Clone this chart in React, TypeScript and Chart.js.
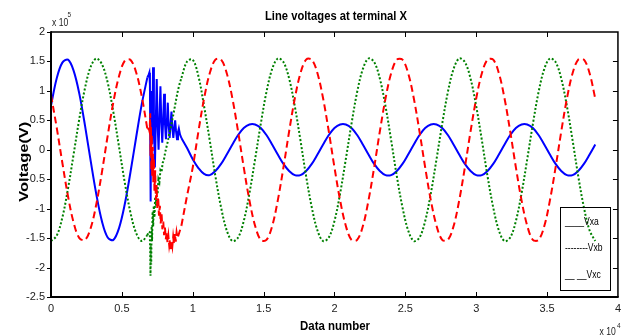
import React, { useEffect, useRef } from "react";
import { Chart, registerables } from "chart.js";

Chart.register(...registerables);

// ---- axis ticks (x in units of 1e4, y in units of 1e5)
const xTickValues = [0, 0.5, 1, 1.5, 2, 2.5, 3, 3.5, 4];
const yTickValues = [-2.5, -2, -1.5, -1, -0.5, 0, 0.5, 1, 1.5, 2];

// ---- pre-fault samples
const preX = [0, 0.04, 0.08, 0.12, 0.16, 0.2, 0.24, 0.28, 0.32, 0.36, 0.4, 0.44, 0.48, 0.52, 0.56, 0.6, 0.64, 0.68];
const vxaPre = [0.75, 1.21, 1.48, 1.53, 1.34, 0.95, 0.41, -0.19, -0.76, -1.22, -1.49, -1.53, -1.33, -0.93, -0.39, 0.2, 0.77, 1.23];
const vxbPre = [-1.55, -1.46, -1.15, -0.66, -0.07, 0.53, 1.05, 1.41, 1.55, 1.45, 1.14, 0.64, 0.05, -0.55, -1.06, -1.41, -1.55, -1.45];
const vxcPre = [0.93, 0.38, -0.22, -0.79, -1.24, -1.5, -1.53, -1.33, -0.92, -0.37, 0.24, 0.81, 1.25, 1.51, 1.53, 1.32, 0.91, 0.35];

// ---- fault transient samples
const vxaFaultX = [0.690, 0.694, 0.698, 0.703, 0.708, 0.714, 0.720, 0.726, 0.733, 0.740, 0.746, 0.752, 0.759, 0.766, 0.772, 0.778, 0.785, 0.792, 0.798, 0.804, 0.811, 0.818, 0.824, 0.830, 0.837, 0.844, 0.850, 0.856, 0.863, 0.870, 0.876, 0.882, 0.889, 0.896, 0.902, 0.910];
const vxaFaultY = [1.28, 1.31, 1.1, -0.88, 1.0, 0.1, 1.4, 0.5, -0.3, 0.55, 1.2, 0.45, 0.0, 0.6, 1.08, 0.5, 0.12, 0.55, 0.95, 0.45, 0.18, 0.5, 0.8, 0.42, 0.2, 0.45, 0.65, 0.38, 0.2, 0.38, 0.5, 0.32, 0.18, 0.3, 0.36, 0.26];

const vxbFaultX = [0.690, 0.697, 0.700, 0.702, 0.704, 0.707, 0.710, 0.713, 0.717, 0.721, 0.725, 0.730, 0.735, 0.740, 0.746, 0.752, 0.758, 0.765, 0.772, 0.780, 0.788, 0.796, 0.805, 0.815, 0.825, 0.835, 0.845, 0.855, 0.865, 0.875, 0.885, 0.895, 0.905];
const vxbFaultY = [-1.39, -1.4, -1.75, -2.14, -1.6, -1.95, -1.3, -1.55, -1.05, -1.3, -0.95, -1.15, -0.8, -0.95, -0.62, -0.75, -0.5, -0.55, -0.35, -0.38, -0.22, -0.18, -0.05, 0.05, 0.15, 0.28, 0.38, 0.5, 0.62, 0.75, 0.88, 1.0, 1.1];

const vxcFaultX = [0.690, 0.696, 0.700, 0.702, 0.705, 0.708, 0.711, 0.714, 0.718, 0.722, 0.726, 0.730, 0.735, 0.740, 0.745, 0.750, 0.756, 0.762, 0.768, 0.774, 0.780, 0.786, 0.792, 0.798, 0.804, 0.810, 0.816, 0.822, 0.828, 0.834, 0.840, 0.845, 0.850, 0.856, 0.862, 0.868, 0.874, 0.880, 0.886, 0.893];
const vxcFaultY = [0.36, 0.3, 0.62, -0.1, 0.4, -0.35, 0.25, -0.45, 0.05, -0.55, -0.15, -0.7, -0.35, -0.85, -0.6, -1.0, -0.8, -1.12, -0.95, -1.25, -1.08, -1.35, -1.22, -1.45, -1.32, -1.52, -1.4, -1.58, -1.46, -1.62, -1.52, -1.72, -1.55, -1.64, -1.48, -1.6, -1.42, -1.56, -1.4, -1.5];

// ---- post-fault samples
const postX = [0.92, 0.96, 1.0, 1.04, 1.08, 1.12, 1.16, 1.2, 1.24, 1.28, 1.32, 1.36, 1.4, 1.44, 1.48, 1.52, 1.56, 1.6, 1.64, 1.68, 1.72, 1.76, 1.8, 1.84, 1.88, 1.92, 1.96, 2.0, 2.04, 2.08, 2.12, 2.16, 2.2, 2.24, 2.28, 2.32, 2.36, 2.4, 2.44, 2.48, 2.52, 2.56, 2.6, 2.64, 2.68, 2.72, 2.76, 2.8, 2.84, 2.88, 2.92, 2.96, 3.0, 3.04, 3.08, 3.12, 3.16, 3.2, 3.24, 3.28, 3.32, 3.36, 3.4, 3.44, 3.48, 3.52, 3.56, 3.6, 3.64, 3.68, 3.72, 3.76, 3.8, 3.84];
const vxaPost = [
  0.2, 0.03, -0.16, -0.31,
  -0.41, -0.43, -0.36, -0.24, -0.08, 0.09, 0.25, 0.37, 0.43, 0.43, 0.37, 0.25, 0.09, -0.08, -0.24, -0.36,
  -0.43, -0.43, -0.36, -0.24, -0.08, 0.09, 0.25, 0.37, 0.43, 0.43, 0.37, 0.25, 0.09, -0.08, -0.24, -0.36,
  -0.43, -0.43, -0.36, -0.24, -0.08, 0.09, 0.25, 0.37, 0.43, 0.43, 0.37, 0.25, 0.09, -0.08, -0.24, -0.36,
  -0.43, -0.43, -0.36, -0.24, -0.08, 0.09, 0.25, 0.37, 0.43, 0.43, 0.37, 0.25, 0.09, -0.08, -0.24, -0.36,
  -0.43, -0.43, -0.36, -0.24, -0.08, 0.09,
];
const vxbPost = [
  1.22, 1.5, 1.53, 1.25,
  0.74, 0.16, -0.45, -0.98, -1.37, -1.55, -1.49, -1.21, -0.74, -0.16, 0.44, 0.98,
  1.37, 1.55, 1.49, 1.21, 0.74, 0.16, -0.45, -0.98, -1.37, -1.55, -1.49, -1.21, -0.74, -0.16, 0.44, 0.98,
  1.37, 1.55, 1.49, 1.21, 0.74, 0.16, -0.45, -0.98, -1.37, -1.55, -1.49, -1.21, -0.74, -0.16, 0.44, 0.98,
  1.37, 1.55, 1.49, 1.21, 0.74, 0.16, -0.45, -0.98, -1.37, -1.55, -1.49, -1.21, -0.74, -0.16, 0.44, 0.98,
  1.37, 1.55, 1.49, 1.21, 0.74, 0.16, -0.45, -0.98, -1.37, -1.55,
];
const vxcPost = [
  -1.29, -0.78, -0.3, 0.31, 0.87, 1.3, 1.53, 1.53, 1.3, 0.87, 0.31, -0.3, -0.86, -1.29, -1.53, -1.53,
  -1.3, -0.86, -0.3, 0.31, 0.87, 1.3, 1.53, 1.53, 1.3, 0.87, 0.31, -0.3, -0.86, -1.29, -1.53, -1.53,
  -1.3, -0.86, -0.3, 0.31, 0.87, 1.3, 1.53, 1.53, 1.3, 0.87, 0.31, -0.3, -0.86, -1.29, -1.53, -1.53,
  -1.3, -0.86, -0.3, 0.31, 0.87, 1.3, 1.53, 1.53, 1.3, 0.87, 0.31, -0.3, -0.86, -1.29, -1.53, -1.53,
  -1.3, -0.86, -0.3, 0.31, 0.87, 1.3, 1.53, 1.53, 1.3, 0.87,
];

const legendLabels = ["____Vxa", "--------Vxb", "__ __Vxc"];

const FONT_FAMILY = '"Liberation Sans", Arial, sans-serif';

function pts(xs: number[], ys: number[]) {
  return xs.map((x, i) => ({ x, y: ys[i] }));
}

function seriesDatasets(pre: number[], fx: number[], fy: number[], post: number[], color: string, dash: number[]) {
  const prePts = pts(preX, pre);
  const postPts = pts(postX, post);
  const faultPts = [prePts[prePts.length - 1], ...pts(fx, fy), postPts[0]];
  const base = {
    borderColor: color,
    backgroundColor: color,
    borderWidth: 2,
    borderDash: dash,
    borderCapStyle: "butt" as const,
    pointRadius: 0,
    fill: false,
  };
  return [
    { ...base, data: prePts, tension: 0.35 },
    { ...base, data: faultPts, tension: 0 },
    { ...base, data: postPts, tension: 0.35 },
  ];
}

function fitText(ctx: CanvasRenderingContext2D, text: string, x: number, y: number, w: number, font: string, align: CanvasTextAlign) {
  ctx.save();
  ctx.font = font;
  const m = ctx.measureText(text).width;
  const s = w / m;
  ctx.translate(x, y);
  ctx.scale(s, 1);
  ctx.textAlign = align;
  ctx.textBaseline = "alphabetic";
  ctx.fillText(text, 0, 0);
  ctx.restore();
}

const framePlugin = {
  id: "matlabFrame",
  afterDraw(chart: any) {
    const ctx: CanvasRenderingContext2D = chart.ctx;
    const { left, right, top, bottom } = chart.chartArea;
    const xs = chart.scales.x;
    const ys = chart.scales.y;
    ctx.save();
    ctx.strokeStyle = "#000";
    ctx.fillStyle = "#000";
    // box
    ctx.lineWidth = 1.5;
    ctx.beginPath();
    ctx.moveTo(left, top);
    ctx.lineTo(right, top);
    ctx.lineTo(right, bottom);
    ctx.stroke();
    ctx.lineWidth = 2;
    ctx.beginPath();
    ctx.moveTo(left, top - 0.75);
    ctx.lineTo(left, bottom);
    ctx.lineTo(right + 0.75, bottom);
    ctx.stroke();
    // ticks
    ctx.lineWidth = 1;
    ctx.beginPath();
    xTickValues.forEach((v) => {
      if (v <= 0 || v >= 4) return;
      const px = Math.round(xs.getPixelForValue(v)) + 0.5;
      ctx.moveTo(px, bottom);
      ctx.lineTo(px, bottom - 5);
      ctx.moveTo(px, top);
      ctx.lineTo(px, top + 5);
    });
    yTickValues.forEach((v) => {
      const py = Math.round(ys.getPixelForValue(v)) + 0.5;
      ctx.moveTo(left - 4, py);
      ctx.lineTo(left, py);
      if (v > -2.5 && v < 2) {
        ctx.moveTo(right, py);
        ctx.lineTo(right - 5, py);
      }
    });
    ctx.stroke();

    // legend
    ctx.lineWidth = 1;
    ctx.strokeRect(560.5, 207.5, 50, 83);
    const legY = [224.5, 250.5, 278];
    legendLabels.forEach((t, i) => {
      ctx.save();
      ctx.font = `11px ${FONT_FAMILY}`;
      ctx.translate(565, legY[i]);
      ctx.scale(0.78, 1);
      ctx.textAlign = "left";
      ctx.fillText(t, 0, 0);
      ctx.restore();
    });

    // title & axis labels
    fitText(ctx, "Line voltages at terminal X", 336, 20, 142, `bold 13px ${FONT_FAMILY}`, "center");
    fitText(ctx, "Data number", 335, 329.5, 70, `bold 13px ${FONT_FAMILY}`, "center");
    ctx.save();
    ctx.translate(28.3, 161.7);
    ctx.rotate(-Math.PI / 2);
    fitText(ctx, "Voltage(V)", 0, 0, 80, `bold 12px ${FONT_FAMILY}`, "center");
    ctx.restore();

    // exponent labels
    ctx.fillStyle = "#222";
    ctx.save();
    ctx.font = `11px ${FONT_FAMILY}`;
    ctx.translate(52, 25.5);
    ctx.scale(0.78, 1);
    ctx.fillText("x 10", 0, 0);
    ctx.restore();
    ctx.save();
    ctx.font = `8px ${FONT_FAMILY}`;
    ctx.translate(67.5, 17);
    ctx.scale(0.8, 1);
    ctx.fillText("5", 0, 0);
    ctx.restore();
    ctx.save();
    ctx.font = `11px ${FONT_FAMILY}`;
    ctx.translate(599.5, 335);
    ctx.scale(0.78, 1);
    ctx.fillText("x 10", 0, 0);
    ctx.restore();
    ctx.save();
    ctx.font = `8px ${FONT_FAMILY}`;
    ctx.translate(617, 328);
    ctx.scale(0.8, 1);
    ctx.fillText("4", 0, 0);
    ctx.restore();

    ctx.restore();
  },
};

export default function App() {
  const ref = useRef<HTMLCanvasElement | null>(null);

  useEffect(() => {
    if (!ref.current) return;
    const datasets = [
      ...seriesDatasets(vxcPre, vxcFaultX, vxcFaultY, vxcPost, "#ff0000", [7, 4]),
      ...seriesDatasets(vxbPre, vxbFaultX, vxbFaultY, vxbPost, "#008000", [2, 2]),
      ...seriesDatasets(vxaPre, vxaFaultX, vxaFaultY, vxaPost, "#0000ff", []),
    ];
    const tickFont = { family: '"Liberation Sans Narrow", "Liberation Sans", Arial, sans-serif', size: 11 };
    const fmt = (v: any) => String(Math.round(Number(v) * 100) / 100);
    const chart = new Chart(ref.current, {
      type: "line",
      data: { datasets: datasets as any },
      options: {
        animation: false,
        responsive: false,
        devicePixelRatio: 1,
        events: [],
        layout: { padding: { left: 0, top: 32, right: 7, bottom: 0 } },
        plugins: {
          legend: { display: false },
          title: { display: false },
          tooltip: { enabled: false },
        },
        scales: {
          x: {
            type: "linear",
            min: 0,
            max: 4,
            afterFit: (s: any) => {
              s.height = 39;
            },
            afterBuildTicks: (s: any) => {
              s.ticks = xTickValues.map((v) => ({ value: v }));
            },
            ticks: { padding: 5, color: "#222", font: tickFont, maxRotation: 0, autoSkip: false, callback: fmt },
            grid: { display: false, drawTicks: false },
            border: { display: false },
          },
          y: {
            type: "linear",
            min: -2.5,
            max: 2,
            afterFit: (s: any) => {
              s.width = 51;
            },
            afterBuildTicks: (s: any) => {
              s.ticks = yTickValues.map((v) => ({ value: v }));
            },
            ticks: { padding: 6, color: "#222", font: tickFont, autoSkip: false, callback: fmt },
            grid: { display: false, drawTicks: false },
            border: { display: false },
          },
        },
      },
      plugins: [framePlugin],
    });
    return () => chart.destroy();
  }, []);

  return (
    <div style={{ position: "absolute", left: 0, top: 0, width: 626, height: 336, background: "#fff" }}>
      <canvas ref={ref} width={626} height={336} />
    </div>
  );
}
